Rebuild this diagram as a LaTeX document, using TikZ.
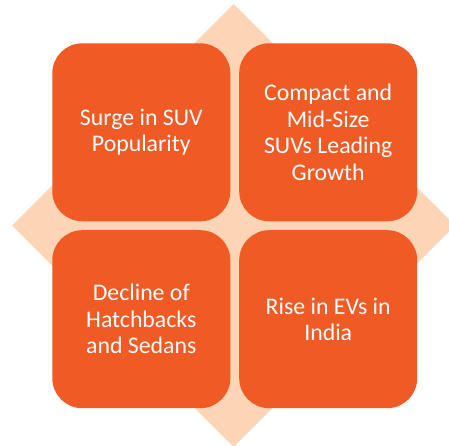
\documentclass[tikz,border=0pt]{standalone}
\usepackage{fontspec}
\setmainfont{Carlito}
\usetikzlibrary{positioning}

\definecolor{tileorange}{RGB}{240,90,36}
\definecolor{backpeach}{RGB}{251,213,181}

\begin{document}
\begin{tikzpicture}[x=1pt,y=-1pt,
  tile/.style={rectangle, rounded corners=30pt, fill=tileorange, draw=none,
    minimum width=178pt, minimum height=178pt, inner sep=0pt,
    text=white, align=center, font=\fontsize{23.8}{26.4}\selectfont}]
\useasboundingbox (0,0) rectangle (449,446);
% diamond behind the four tiles
\fill[backpeach] (233.5,4) -- (455,225.5) -- (233.5,447) -- (12,225.5) -- cycle;
% the four tiles
\node[tile] (suv) at (141.3,132.3) {Surge in SUV\\Popularity};
\node[tile, right=8.5pt of suv] (compact) {Compact and\\Mid-Size\\SUVs Leading\\Growth};
\node[tile, below=8.5pt of suv] (decline) {Decline of\\Hatchbacks\\and Sedans};
\node[tile, right=8.5pt of decline] (evs) {Rise in EVs in\\India};
\end{tikzpicture}
\end{document}
